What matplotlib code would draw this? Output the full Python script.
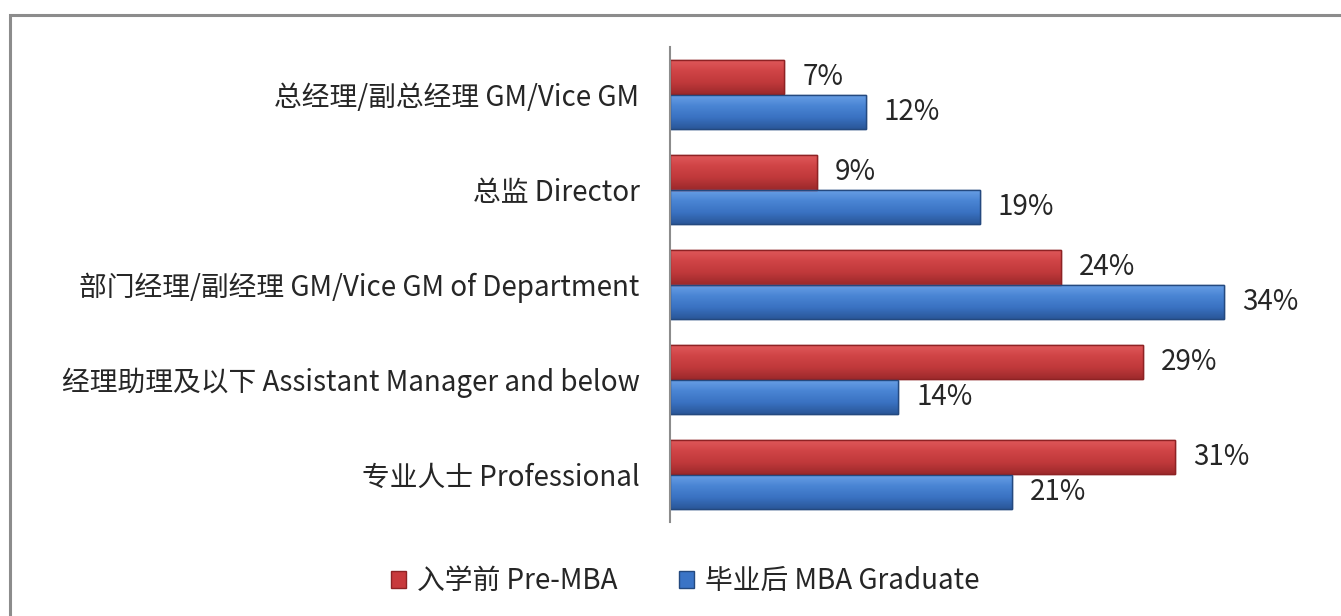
import matplotlib
matplotlib.use("Agg")
import numpy as np
import matplotlib.pyplot as plt
from matplotlib.colors import LinearSegmentedColormap
from matplotlib.patches import Rectangle, Patch

# =============================================================================
# Data
# =============================================================================

CATEGORIES = [
    "总经理/副总经理 GM/Vice GM",
    "总监 Director",
    "部门经理/副经理 GM/Vice GM of Department",
    "经理助理及以下 Assistant Manager and below",
    "专业人士 Professional",
]
PRE_MBA = [0.07, 0.09, 0.24, 0.29, 0.31]
MBA_GRADUATE = [0.12, 0.19, 0.34, 0.14, 0.21]
SERIES_NAMES = ["入学前 Pre-MBA", "毕业后 MBA Graduate"]

# =============================================================================
# Style
# =============================================================================

plt.rcParams["font.family"] = ["Noto Sans CJK SC", "DejaVu Sans"]
RED = "#C8393C"
RED_EDGE = "#8E2224"
BLUE = "#3B74C6"
BLUE_EDGE = "#24497F"
TEXT = "#262626"
FS = 20

RED_CMAP = LinearSegmentedColormap.from_list(
    "red", ["#E05A5C", "#D04446", "#C0393B", "#9E2A2C"])
BLUE_CMAP = LinearSegmentedColormap.from_list(
    "blue", ["#6AA0E6", "#4A85D4", "#3A72C2", "#2A5799"])

W, H = 1341, 616
fig = plt.figure(figsize=(W / 100, H / 100), dpi=100)

# grey frame round the chart, cut off at right and bottom like the source
fig.patches.append(Rectangle((10 / W, -0.1), 1.2, 1 - 15 / H + 0.1,
                             transform=fig.transFigure, fill=False,
                             edgecolor="#8C8C8C", linewidth=2.2))

ax = fig.add_axes([670 / W, 1 - 522 / H, 652 / W, 475 / H])

y = np.arange(len(CATEGORIES))
bar_h = 0.368
gradient = np.linspace(0, 1, 64).reshape(-1, 1)


def draw_series(values, offset, face, edge, cmap):
    bars = ax.barh(y + offset, values, height=bar_h, color=face,
                   edgecolor=edge, linewidth=1.0, zorder=2)
    for b, v in zip(bars, values):
        x0, y0 = b.get_x(), b.get_y()
        im = ax.imshow(gradient, cmap=cmap, aspect="auto", zorder=2.5,
                       extent=(x0, x0 + b.get_width(), y0 + b.get_height(), y0))
        im.set_clip_path(b)
        ax.annotate(f"{v:.0%}", (b.get_width(), y0 + b.get_height() / 2),
                    xytext=(13, 0), textcoords="offset points",
                    va="center", ha="left", fontsize=FS, color=TEXT)
        ax.add_patch(Rectangle((x0, y0), b.get_width(), b.get_height(),
                               fill=False, edgecolor=edge, linewidth=1.0,
                               zorder=3))


draw_series(PRE_MBA, -bar_h / 2, RED, RED_EDGE, RED_CMAP)
draw_series(MBA_GRADUATE, bar_h / 2, BLUE, BLUE_EDGE, BLUE_CMAP)

ax.set_xlim(0, 0.40)
ax.set_ylim(len(CATEGORIES) - 0.5, -0.5)
ax.set_yticks(y)
ax.set_yticklabels(CATEGORIES, fontsize=FS, color=TEXT)
ax.tick_params(axis="y", length=0, pad=22)
ax.set_xticks([])
for side in ("top", "right", "bottom"):
    ax.spines[side].set_visible(False)
ax.spines["left"].set_color("#8C8C8C")
ax.spines["left"].set_linewidth(1.5)
ax.spines["left"].set_zorder(4)

handles = [Patch(facecolor=RED, edgecolor=RED_EDGE),
           Patch(facecolor=BLUE, edgecolor=BLUE_EDGE)]
fig.legend(handles, SERIES_NAMES, loc="center", bbox_to_anchor=(685 / W, 1 - 581 / H),
           ncol=2, frameon=False, fontsize=FS, handlelength=0.55, handleheight=0.55,
           handletextpad=0.4, columnspacing=2.2, labelcolor=TEXT)

fig.savefig("out.png", dpi=100)
